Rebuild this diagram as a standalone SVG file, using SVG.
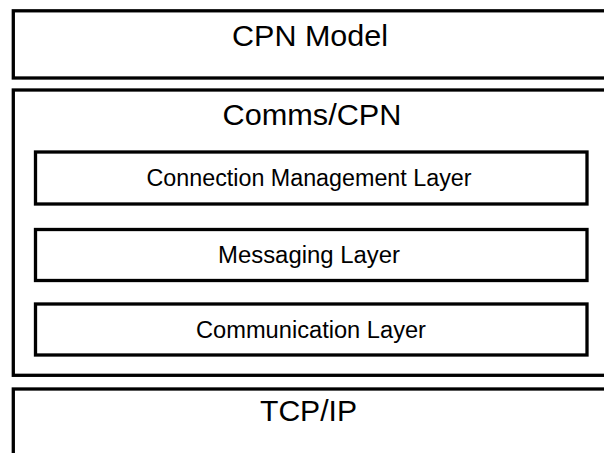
<svg xmlns="http://www.w3.org/2000/svg" width="604" height="453" viewBox="0 0 604 453">
  <style>
    .box { fill: #ffffff; stroke: #000000; stroke-width: 3.3; }
    .big { font-family: "Liberation Sans", Arial, sans-serif; font-size: 29px; fill: #000000; text-anchor: middle; }
    .small { font-family: "Liberation Sans", Arial, sans-serif; font-size: 23px; fill: #000000; text-anchor: middle; }
  </style>
  <rect width="604" height="453" fill="#ffffff"/>
  <!-- outer layers run past the right edge -->
  <g id="cpn-model">
    <rect class="box" x="13.3" y="10.8" width="600" height="67.2"/>
    <text class="big" x="310" y="46" textLength="156" lengthAdjust="spacingAndGlyphs">CPN Model</text>
  </g>
  <g id="comms-cpn">
    <rect class="box" x="13.3" y="90" width="600" height="285.3"/>
    <text class="big" x="312" y="125" textLength="179" lengthAdjust="spacingAndGlyphs">Comms/CPN</text>
  </g>
  <!-- inner layers of Comms/CPN -->
  <g id="connection-management-layer">
    <rect class="box" x="35.5" y="152" width="551.5" height="52"/>
    <text class="small" x="309" y="186" textLength="325" lengthAdjust="spacingAndGlyphs">Connection Management Layer</text>
  </g>
  <g id="messaging-layer">
    <rect class="box" x="35.5" y="229.5" width="551.5" height="51"/>
    <text class="small" x="309" y="263" textLength="182" lengthAdjust="spacingAndGlyphs">Messaging Layer</text>
  </g>
  <g id="communication-layer">
    <rect class="box" x="35.5" y="304" width="551.5" height="51"/>
    <text class="small" x="311" y="338" textLength="230" lengthAdjust="spacingAndGlyphs">Communication Layer</text>
  </g>
  <g id="tcp-ip">
    <rect class="box" x="13.3" y="389" width="600" height="80"/>
    <text class="big" x="308.5" y="421" textLength="97" lengthAdjust="spacingAndGlyphs">TCP/IP</text>
  </g>
  <g id="connectors"/>
</svg>
